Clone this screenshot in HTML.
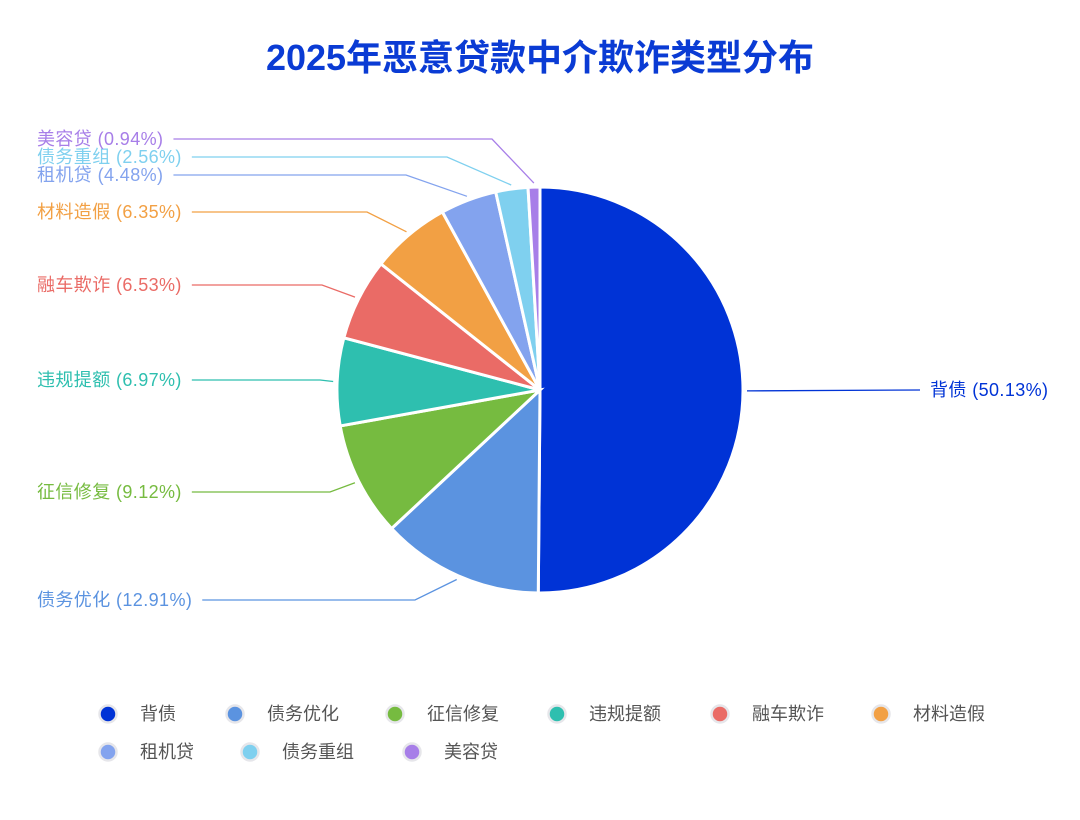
<!DOCTYPE html>
<html><head><meta charset="utf-8"><style>
body{margin:0;background:#fff;width:1080px;height:815px;overflow:hidden;font-family:"Liberation Sans","Noto Sans CJK SC",sans-serif}
</style></head><body>
<svg id="chart" width="1080" height="815" xmlns="http://www.w3.org/2000/svg">
<text x="540" y="70" text-anchor="middle" font-size="36" font-weight="bold" fill="#0a3bd4" font-family="Liberation Sans, Noto Sans CJK SC, sans-serif">2025年恶意贷款中介欺诈类型分布</text>
<g id="slices"></g><g id="labels"></g><g id="legend"></g>
</svg>
<script>
const categories=["背债","债务优化","征信修复","违规提额","融车欺诈","材料造假","租机贷","债务重组","美容贷"];
const values=[50.13,12.91,9.12,6.97,6.53,6.35,4.48,2.56,0.94];
const colors=["#0033d6","#5b93e0","#76bb40","#2ebfaf","#ea6b66","#f2a044","#83a3ee","#7fd0ef","#a77ee8"];
const labelY=[390,600,492,380,285,212,175,157,139];
const elbowX=[920,415,330,320,322,367,406,447,492];
const NS="http://www.w3.org/2000/svg";
const cx=540,cy=390,R=203;
const total=values.reduce((a,b)=>a+b,0);
function pt(a,r){return [cx+r*Math.sin(a),cy-r*Math.cos(a)];}
const gS=document.getElementById('slices'),gL=document.getElementById('labels'),gG=document.getElementById('legend');
let acc=0;
values.forEach((v,i)=>{
  const a0=acc/total*2*Math.PI;acc+=v;const a1=acc/total*2*Math.PI;
  const p0=pt(a0,R),p1=pt(a1,R);const large=(a1-a0)>Math.PI?1:0;
  const p=document.createElementNS(NS,'path');
  p.setAttribute('d',`M${cx},${cy}L${p0[0]},${p0[1]}A${R},${R} 0 ${large} 1 ${p1[0]},${p1[1]}Z`);
  p.setAttribute('fill',colors[i]);p.setAttribute('stroke','#fff');p.setAttribute('stroke-width','3');
  
  
  gS.appendChild(p);
  const am=(a0+a1)/2;const s=pt(am,R+4);
  const t=document.createElementNS(NS,'text');
  t.setAttribute('font-size','18');t.setAttribute('fill',colors[i]);
  t.setAttribute('y',labelY[i]+6);
  t.setAttribute('letter-spacing','0.4');
  t.textContent=categories[i]+' ('+v.toFixed(2)+'%)';
  
  
  const line=document.createElementNS(NS,'polyline');
  line.setAttribute('fill','none');line.setAttribute('stroke',colors[i]);line.setAttribute('stroke-width','1.3');
  
  
  gL.appendChild(line);gL.appendChild(t);
  if(s[0]>cx){
    t.setAttribute('x',elbowX[i]+10);
    line.setAttribute('points',`${s[0]},${s[1]} ${elbowX[i]},${labelY[i]}`);
  }else{
    t.setAttribute('x',37);
    const w=t.getComputedTextLength();
    line.setAttribute('points',`${s[0]},${s[1]} ${elbowX[i]},${labelY[i]} ${37+w+10},${labelY[i]}`);
  }
});
const legX=[108,235,395,557,720,881,108,250,412];
const legY=[714,714,714,714,714,714,752,752,752];
categories.forEach((c,i)=>{
  const g=document.createElementNS(NS,'g');
  
  
  const ci=document.createElementNS(NS,'circle');
  ci.setAttribute('cx',legX[i]);ci.setAttribute('cy',legY[i]);ci.setAttribute('r',8.5);
  ci.setAttribute('fill',colors[i]);ci.setAttribute('stroke','#e6e6ea');ci.setAttribute('stroke-width','2.5');
  const t=document.createElementNS(NS,'text');
  t.setAttribute('x',legX[i]+32);t.setAttribute('y',legY[i]+6);t.setAttribute('font-size','18');t.setAttribute('fill','#555');
  t.textContent=c;
  g.appendChild(ci);g.appendChild(t);gG.appendChild(g);
});
</script>
</body></html>
